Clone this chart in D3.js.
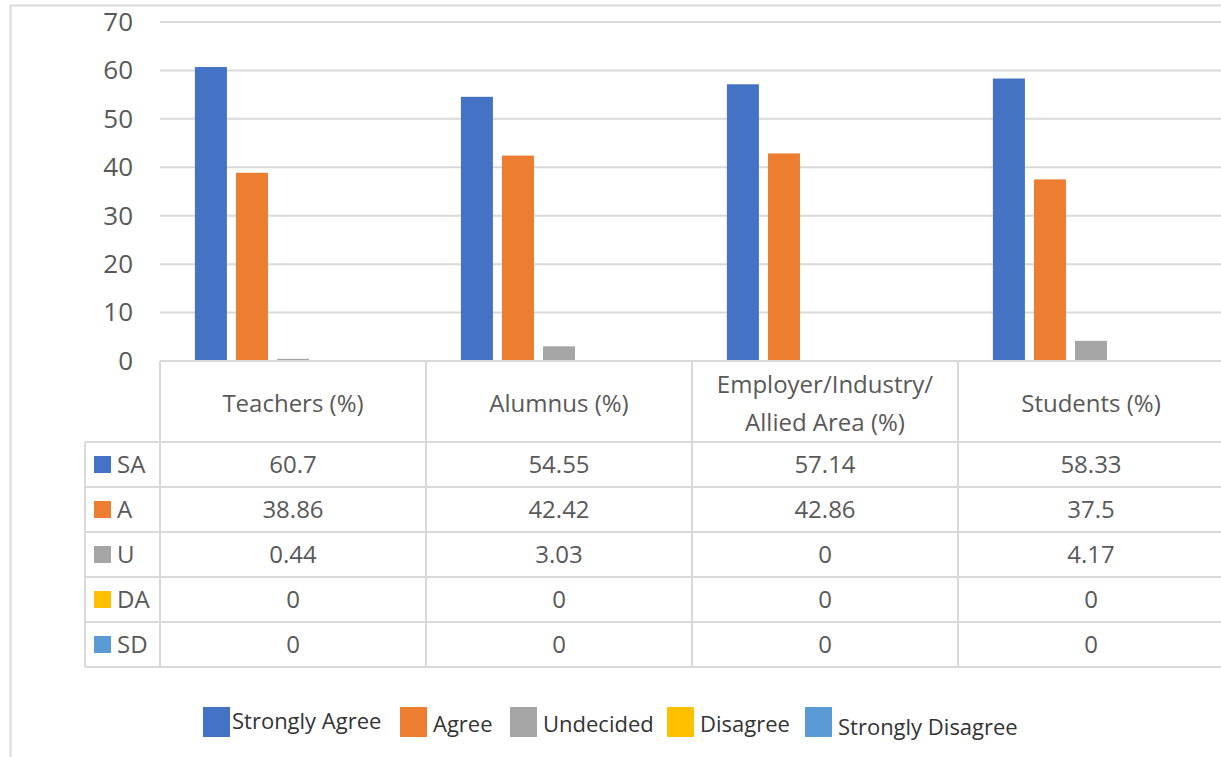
<!DOCTYPE html>
<html>
<head>
<meta charset="utf-8">
<script src="https://cdn.jsdelivr.net/npm/d3@7"></script>
<style>
  body { margin: 0; background: #fff; }
  svg { display: block; font-family: "Open Sans", "Noto Sans", sans-serif; }
</style>
</head>
<body>
<script>
// data
const categories = ["Teachers (%)", "Alumnus (%)", "Employer/Industry/\nAllied Area (%)", "Students (%)"];
const seriesKeys = ["SA", "A", "U", "DA", "SD"];
const seriesNames = ["Strongly Agree", "Agree", "Undecided", "Disagree", "Strongly Disagree"];
const seriesColors = ["#4472C4", "#ED7D31", "#A5A5A5", "#FFC000", "#5B9BD5"];
const saValues = [60.7, 54.55, 57.14, 58.33];
const aValues = [38.86, 42.42, 42.86, 37.5];
const uValues = [0.44, 3.03, 0, 4.17];
const daValues = [0, 0, 0, 0];
const sdValues = [0, 0, 0, 0];
const yTicks = [0, 10, 20, 30, 40, 50, 60, 70];

const seriesValues = [saValues, aValues, uValues, daValues, sdValues];

const W = 1221, H = 757;
const plotLeft = 160, plotRight = 1224, plotTop = 22, plotBottom = 361;
const tableLeft = 85, headerBottom = 442, tableBottom = 667;
const gridColor = "#d9d9d9";
const textColor = "#595959";

let svg = d3.select("body").append("svg")
  .attr("width", W)
  .attr("height", H);

// outer chart border
svg.append("path")
  .attr("d", `M10.5,${H} V5.5 H${W}`)
  .attr("fill", "none")
  .attr("stroke", gridColor)
  .attr("stroke-width", 2);

let x0 = d3.scaleBand(categories, [plotLeft, plotRight]);
let x1 = d3.scaleBand(seriesKeys, [0, x0.bandwidth()])
  .paddingInner(0.22)
  .paddingOuter(0.85);
let y = d3.scaleLinear([0, 70], [plotBottom, plotTop]);

// gridlines
svg.append("g")
  .selectAll("line")
  .data(yTicks.filter(d => d > 0))
  .enter()
  .append("line")
  .attr("x1", plotLeft)
  .attr("x2", W)
  .attr("y1", d => y(d))
  .attr("y2", d => y(d))
  .attr("stroke", gridColor)
  .attr("stroke-width", 2);

// y axis labels
let yAxis = svg.append("g")
  .attr("transform", `translate(133, 0)`)
  .call(d3.axisLeft(y).tickValues(yTicks).tickSize(0).tickPadding(0));
yAxis.select(".domain").remove();
yAxis.selectAll("text")
  .attr("font-family", "'Open Sans', sans-serif")
  .attr("font-size", "26px")
  .attr("fill", textColor);

// bars
let groups = svg.append("g")
  .selectAll("g")
  .data(categories)
  .enter()
  .append("g")
  .attr("transform", d => `translate(${x0(d)}, 0)`);

groups.selectAll("rect")
  .data((c, ci) => seriesKeys.map((k, si) => ({ key: k, value: seriesValues[si][ci], color: seriesColors[si] })))
  .enter()
  .append("rect")
  .attr("x", d => x1(d.key))
  .attr("width", x1.bandwidth())
  .attr("y", d => y(d.value))
  .attr("height", d => y(0) - y(d.value))
  .attr("fill", d => d.color);

// data table
let rowY = d3.scaleBand(seriesKeys, [headerBottom, tableBottom]);
let table = svg.append("g")
  .attr("stroke", gridColor)
  .attr("stroke-width", 2)
  .attr("fill", "none");

table.append("line")
  .attr("x1", plotLeft).attr("x2", W)
  .attr("y1", plotBottom).attr("y2", plotBottom);

table.selectAll(".hline")
  .data(seriesKeys)
  .enter()
  .append("line")
  .attr("class", "hline")
  .attr("x1", tableLeft).attr("x2", W)
  .attr("y1", d => rowY(d)).attr("y2", d => rowY(d));

table.append("line")
  .attr("x1", tableLeft).attr("x2", W)
  .attr("y1", tableBottom).attr("y2", tableBottom);

table.append("line")
  .attr("x1", tableLeft).attr("x2", tableLeft)
  .attr("y1", headerBottom).attr("y2", tableBottom);

table.selectAll(".vline")
  .data(categories)
  .enter()
  .append("line")
  .attr("class", "vline")
  .attr("x1", d => x0(d)).attr("x2", d => x0(d))
  .attr("y1", plotBottom).attr("y2", tableBottom);

// header labels
let headers = svg.append("g")
  .selectAll("text")
  .data(categories)
  .enter()
  .append("text")
  .attr("x", d => x0(d) + x0.bandwidth() / 2)
  .attr("y", (plotBottom + headerBottom) / 2 + 2)
  .attr("text-anchor", "middle")
  .attr("font-size", "24px")
  .attr("fill", textColor);

headers.each(function(d) {
  let lines = d.split("\n");
  let el = d3.select(this);
  lines.forEach((ln, i) => {
    el.append("tspan")
      .attr("x", x0(d) + x0.bandwidth() / 2)
      .attr("dy", i === 0 ? `${0.35 - (lines.length - 1) * 0.78}em` : "1.56em")
      .text(ln);
  });
});

// row keys and labels
let rows = svg.append("g")
  .selectAll("g")
  .data(seriesKeys)
  .enter()
  .append("g")
  .attr("transform", d => `translate(0, ${rowY(d) + rowY.bandwidth() / 2})`);

rows.append("rect")
  .attr("x", 94)
  .attr("y", -8.5)
  .attr("width", 17)
  .attr("height", 17)
  .attr("fill", (d, i) => seriesColors[i]);

rows.append("text")
  .attr("x", 117)
  .attr("dy", "0.36em")
  .attr("font-size", "24px")
  .attr("fill", textColor)
  .text(d => d);

rows.each(function(k, si) {
  d3.select(this).selectAll(".val")
    .data(categories)
    .enter()
    .append("text")
    .attr("class", "val")
    .attr("x", c => x0(c) + x0.bandwidth() / 2)
    .attr("dy", "0.36em")
    .attr("text-anchor", "middle")
    .attr("font-size", "24px")
    .attr("fill", textColor)
    .text((c, ci) => String(seriesValues[si][ci]));
});

// legend at bottom
const legendX = [203, 400, 510, 667, 805];
let legend = svg.append("g")
  .selectAll("g")
  .data(seriesNames)
  .enter()
  .append("g")
  .attr("transform", (d, i) => `translate(${legendX[i]}, 707)`);

legend.append("rect")
  .attr("width", 27)
  .attr("height", 30)
  .attr("fill", (d, i) => seriesColors[i]);

legend.append("text")
  .attr("x", (d, i) => i === 0 ? 29 : 33)
  .attr("y", (d, i) => i === 0 ? 14 : (i === 4 ? 20 : 17))
  .attr("dy", "0.35em")
  .attr("font-size", "22px")
  .attr("fill", "#333")
  .text(d => d);
</script>
</body>
</html>
